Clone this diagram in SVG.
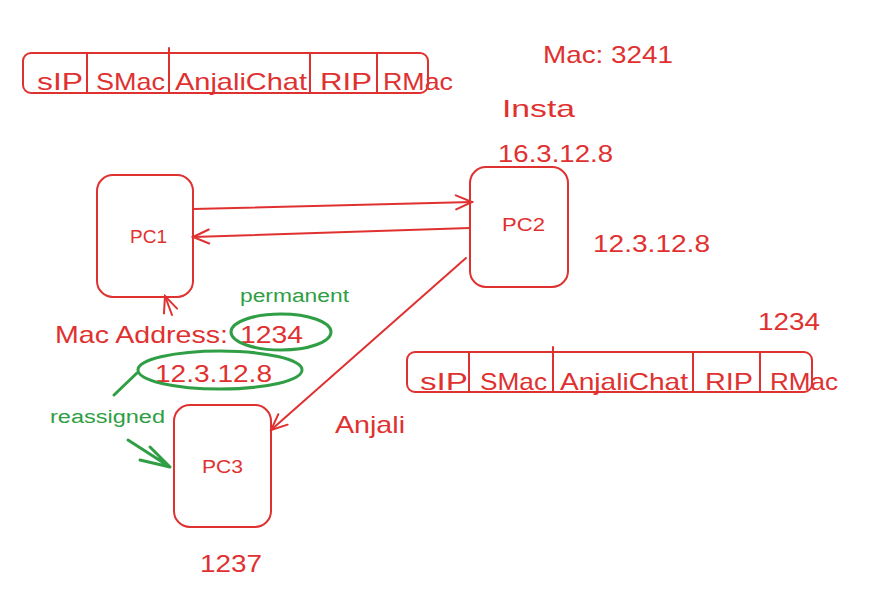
<svg xmlns="http://www.w3.org/2000/svg" width="876" height="611" viewBox="0 0 876 611">
<defs>
<style>
.r{fill:none;stroke:#e03131;stroke-width:2;stroke-linecap:round;stroke-linejoin:round}
.g{fill:none;stroke:#2f9e44;stroke-width:3;stroke-linecap:round;stroke-linejoin:round}
.t{font-family:"Liberation Sans",Arial,sans-serif;fill:#e03131;font-size:24px}
.pc{font-family:"Liberation Sans",Arial,sans-serif;fill:#e03131;font-size:19px}
.gt{font-family:"Liberation Sans",Arial,sans-serif;fill:#2f9e44;font-size:18px}
</style>
<marker id="ah" viewBox="0 0 20 20" refX="18" refY="10" markerWidth="20" markerHeight="20" markerUnits="userSpaceOnUse" orient="auto">
<path d="M2,3 L18,10 L2,17" fill="none" stroke="#e03131" stroke-width="2" stroke-linecap="round"/>
</marker>
</defs>
<rect width="876" height="611" fill="#ffffff"/>

<g id="packet-top">
<rect class="r" x="23" y="53" width="405" height="40" rx="8"/>
<line class="r" x1="87" y1="53" x2="87" y2="93"/>
<line class="r" x1="169" y1="48" x2="169" y2="93"/>
<line class="r" x1="310" y1="53" x2="310" y2="93"/>
<line class="r" x1="377" y1="53" x2="377" y2="93"/>
<text class="t" x="37" y="90" textLength="46" lengthAdjust="spacingAndGlyphs">sIP</text>
<text class="t" x="96" y="90" textLength="69" lengthAdjust="spacingAndGlyphs">SMac</text>
<text class="t" x="175" y="90" textLength="132" lengthAdjust="spacingAndGlyphs">AnjaliChat</text>
<text class="t" x="320" y="90" textLength="52" lengthAdjust="spacingAndGlyphs">RIP</text>
<text class="t" x="383" y="90" textLength="70" lengthAdjust="spacingAndGlyphs">RMac</text>
</g>

<g id="packet-bottom">
<rect class="r" x="407" y="352" width="405" height="40" rx="8"/>
<line class="r" x1="469" y1="352" x2="469" y2="392"/>
<line class="r" x1="553" y1="347" x2="553" y2="392"/>
<line class="r" x1="693" y1="352" x2="693" y2="392"/>
<line class="r" x1="760" y1="352" x2="760" y2="392"/>
<text class="t" x="420" y="390" textLength="48" lengthAdjust="spacingAndGlyphs">sIP</text>
<text class="t" x="480" y="390" textLength="67" lengthAdjust="spacingAndGlyphs">SMac</text>
<text class="t" x="560" y="390" textLength="128" lengthAdjust="spacingAndGlyphs">AnjaliChat</text>
<text class="t" x="705" y="390" textLength="48" lengthAdjust="spacingAndGlyphs">RIP</text>
<text class="t" x="770" y="390" textLength="68" lengthAdjust="spacingAndGlyphs">RMac</text>
</g>

<g id="pc1">
<rect class="r" x="97" y="175" width="96" height="122" rx="16"/>
<text class="pc" x="130" y="243" textLength="37" lengthAdjust="spacingAndGlyphs">PC1</text>
</g>
<g id="pc2">
<rect class="r" x="470" y="167" width="98" height="120" rx="16"/>
<text class="pc" x="502" y="231" textLength="43" lengthAdjust="spacingAndGlyphs">PC2</text>
</g>
<g id="pc3">
<rect class="r" x="174" y="405" width="97" height="122" rx="16"/>
<text class="pc" x="202" y="473" textLength="41" lengthAdjust="spacingAndGlyphs">PC3</text>
</g>

<g id="connectors">
<line class="r" x1="193" y1="209" x2="472" y2="202" marker-end="url(#ah)"/>
<line class="r" x1="470" y1="228" x2="193" y2="237" marker-end="url(#ah)"/>
<line class="r" x1="466" y1="258" x2="271" y2="430" marker-end="url(#ah)"/>
<line class="r" x1="172" y1="315" x2="165" y2="296" marker-end="url(#ah)"/>
</g>

<g id="labels">
<text class="t" x="543" y="63" textLength="130" lengthAdjust="spacingAndGlyphs">Mac: 3241</text>
<text class="t" x="502" y="117" textLength="73" lengthAdjust="spacingAndGlyphs">Insta</text>
<text class="t" x="498" y="162" textLength="115" lengthAdjust="spacingAndGlyphs">16.3.12.8</text>
<text class="t" x="593" y="252" textLength="117" lengthAdjust="spacingAndGlyphs">12.3.12.8</text>
<text class="t" x="758" y="330" textLength="62" lengthAdjust="spacingAndGlyphs">1234</text>
<text class="t" x="55" y="343" textLength="173" lengthAdjust="spacingAndGlyphs">Mac Address:</text>
<text class="t" x="240" y="343" textLength="63" lengthAdjust="spacingAndGlyphs">1234</text>
<text class="t" x="155" y="382" textLength="117" lengthAdjust="spacingAndGlyphs">12.3.12.8</text>
<text class="t" x="335" y="433" textLength="70" lengthAdjust="spacingAndGlyphs">Anjali</text>
<text class="t" x="200" y="572" textLength="62" lengthAdjust="spacingAndGlyphs">1237</text>
</g>

<g id="annotations">
<ellipse class="g" cx="281" cy="332" rx="50" ry="18"/>
<ellipse class="g" cx="220" cy="370" rx="82" ry="19"/>
<line class="g" x1="137" y1="373" x2="114" y2="395"/>
<path class="g" d="M128,440 L170,467 M170,467 L150,447 M170,467 L140,460"/>
<text class="gt" x="240" y="302" textLength="109" lengthAdjust="spacingAndGlyphs">permanent</text>
<text class="gt" x="50" y="423" textLength="115" lengthAdjust="spacingAndGlyphs">reassigned</text>
</g>
</svg>
